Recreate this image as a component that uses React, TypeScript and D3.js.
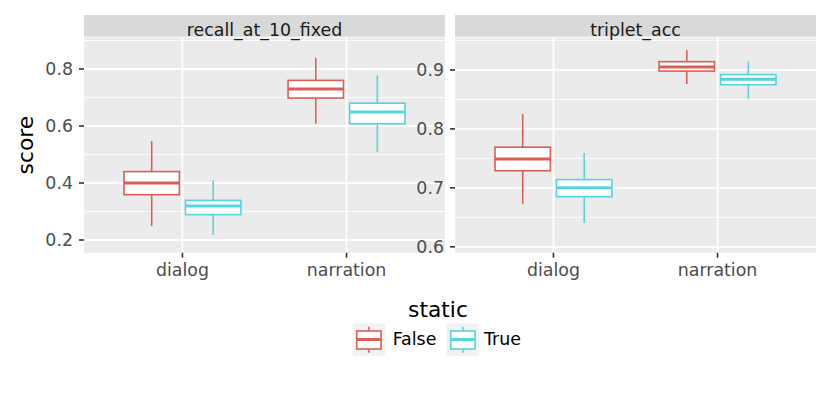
import React from "react";
import * as d3 from "d3";

// facets, categories and colour groups
const facets = ["recall_at_10_fixed", "triplet_acc"];
const categories = ["dialog", "narration"];
const groups = ["False", "True"];
const colors = ["#DB5F57", "#57D3DB"];

// box stats per category: [lower whisker, q1, median, q3, upper whisker]
const recallFalse = [
  [0.249, 0.359, 0.4, 0.44, 0.547],
  [0.608, 0.698, 0.73, 0.76, 0.839],
];
const recallTrue = [
  [0.218, 0.289, 0.319, 0.339, 0.409],
  [0.509, 0.608, 0.649, 0.68, 0.778],
];
const tripletFalse = [
  [0.673, 0.729, 0.749, 0.769, 0.825],
  [0.876, 0.898, 0.905, 0.914, 0.934],
];
const tripletTrue = [
  [0.641, 0.685, 0.7, 0.714, 0.759],
  [0.851, 0.875, 0.884, 0.892, 0.914],
];

// axis extents and ticks for each facet
const recallDomain = [0.1554, 0.9105];
const tripletDomain = [0.59, 0.955];
const recallTicks = [0.2, 0.4, 0.6, 0.8];
const tripletTicks = [0.6, 0.7, 0.8, 0.9];
const recallMinor = [0.3, 0.5, 0.7, 0.9];
const tripletMinor = [0.65, 0.75, 0.85, 0.95];

const width = 831;
const height = 396;
const font = "DejaVu Sans, sans-serif";
const textSize = 17.4;
const titleSize = 21.8;
const panelTop = 37.5;
const panelBottom = 252.7;
const stripTop = 15;
const stripBottom = 36.7;
const panelLefts = [84, 455];
const panelWidth = 361;

const panels = [
  { name: facets[0], data: [recallFalse, recallTrue], domain: recallDomain, ticks: recallTicks, minor: recallMinor },
  { name: facets[1], data: [tripletFalse, tripletTrue], domain: tripletDomain, ticks: tripletTicks, minor: tripletMinor },
];

const Panel = ({ p, left }: { p: typeof panels[number]; left: number }) => {
  // discrete scale: categories sit at 1 and 2 on [0.4, 2.6]
  const xs = d3.scaleLinear([0.4, 2.6], [left, left + panelWidth]);
  const y = d3.scaleLinear(p.domain, [panelBottom, panelTop]);
  const unit = xs(1) - xs(0);
  const slot = 0.375;
  const boxW = slot * 0.9 * unit;

  return (
    <g>
      <rect x={left} y={stripTop} width={panelWidth} height={stripBottom - stripTop} fill="#D9D9D9" />
      <rect x={left} y={panelTop} width={panelWidth} height={panelBottom - panelTop} fill="#EBEBEB" />
      {p.minor.map((t) => (
        <line key={"m" + t} x1={left} x2={left + panelWidth} y1={y(t)} y2={y(t)} stroke="white" strokeWidth={0.9} />
      ))}
      {p.ticks.map((t) => (
        <line key={"g" + t} x1={left} x2={left + panelWidth} y1={y(t)} y2={y(t)} stroke="white" strokeWidth={1.8} />
      ))}
      {categories.map((c, i) => (
        <line key={"v" + c} x1={xs(i + 1)} x2={xs(i + 1)} y1={panelTop} y2={panelBottom} stroke="white" strokeWidth={1.8} />
      ))}
      <text x={left + panelWidth / 2} y={36} textAnchor="middle" fontSize={textSize} fill="#1A1A1A" fontFamily={font}>
        {p.name}
      </text>
      {p.ticks.map((t) => (
        <g key={"t" + t}>
          <line x1={left - 5} x2={left} y1={y(t)} y2={y(t)} stroke="#333" strokeWidth={1.6} />
          <text x={left - 11} y={y(t)} dy="0.36em" textAnchor="end" fontSize={textSize} fill="#4D4D4D" fontFamily={font}>
            {t.toFixed(1)}
          </text>
        </g>
      ))}
      {categories.map((c, i) => (
        <g key={"x" + c}>
          <line x1={xs(i + 1)} x2={xs(i + 1)} y1={panelBottom} y2={panelBottom + 5} stroke="#333" strokeWidth={1.6} />
          <text x={xs(i + 1)} y={276} textAnchor="middle" fontSize={textSize} fill="#4D4D4D" fontFamily={font}>
            {c}
          </text>
        </g>
      ))}
      {p.data.map((series, g) =>
        series.map((s, i) => {
          const cx = xs(i + 1 + (g === 0 ? -slot / 2 : slot / 2));
          const [lo, q1, med, q3, hi] = s;
          return (
            <g key={g + "-" + i} stroke={colors[g]}>
              <line x1={cx} x2={cx} y1={y(hi)} y2={y(q3)} strokeWidth={1.6} />
              <line x1={cx} x2={cx} y1={y(q1)} y2={y(lo)} strokeWidth={1.6} />
              <rect x={cx - boxW / 2} y={y(q3)} width={boxW} height={y(q1) - y(q3)} fill="white" strokeWidth={1.6} />
              <line x1={cx - boxW / 2} x2={cx + boxW / 2} y1={y(med)} y2={y(med)} strokeWidth={3} />
            </g>
          );
        })
      )}
    </g>
  );
};

const LegendKey = ({ x, y0, color }: { x: number; y0: number; color: string }) => {
  const size = 32.4;
  const cx = x + size / 2;
  return (
    <g>
      <rect x={x} y={y0} width={size} height={size} fill="#F2F2F2" />
      <g stroke={color}>
        <line x1={cx} x2={cx} y1={y0 + 3.4} y2={y0 + 7.7} strokeWidth={1.6} />
        <line x1={cx} x2={cx} y1={y0 + 25.7} y2={y0 + 29.4} strokeWidth={1.6} />
        <rect x={x + 4} y={y0 + 7.7} width={size - 8} height={18} fill="white" strokeWidth={1.6} />
        <line x1={x + 4} x2={x + size - 4} y1={y0 + 16.2} y2={y0 + 16.2} strokeWidth={3} />
      </g>
    </g>
  );
};

export default function App() {
  const legendY = 323.3;
  return (
    <svg width={width} height={height} style={{ display: "block", margin: "-8px" }}>
      <rect width={width} height={height} fill="white" />
      {panels.map((p, i) => (
        <Panel key={p.name} p={p} left={panelLefts[i]} />
      ))}
      <text
        transform={`translate(33.3, ${(panelTop + panelBottom) / 2}) rotate(-90)`}
        textAnchor="middle"
        fontSize={titleSize}
        fill="black"
        fontFamily={font}
      >
        score
      </text>
      <text x={438} y={317} textAnchor="middle" fontSize={titleSize} fill="black" fontFamily={font}>
        static
      </text>
      <LegendKey x={352.7} y0={legendY} color={colors[0]} />
      <text x={392.7} y={345} fontSize={textSize} fill="black" fontFamily={font}>
        {groups[0]}
      </text>
      <LegendKey x={446.7} y0={legendY} color={colors[1]} />
      <text x={484} y={345} fontSize={textSize} fill="black" fontFamily={font}>
        {groups[1]}
      </text>
    </svg>
  );
}
